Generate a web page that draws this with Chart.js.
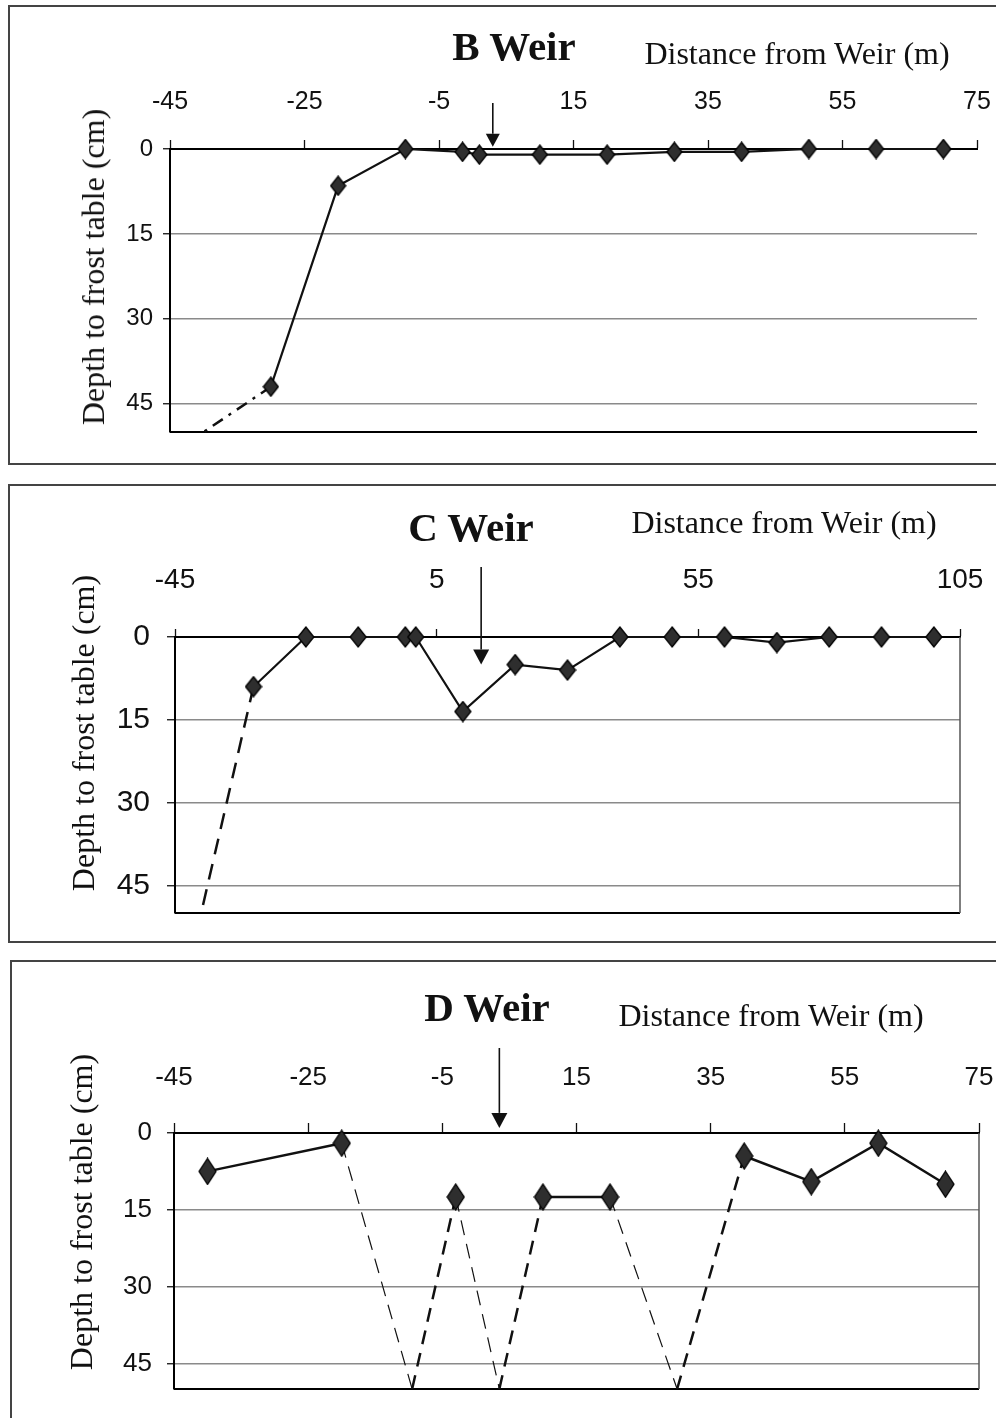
<!DOCTYPE html>
<html lang="en">
<head>
<meta charset="UTF-8">
<title>Depth to frost table near B, C and D weirs</title>
<script src="https://cdn.jsdelivr.net/npm/chart.js"></script>
<style>
  body { margin: 0; background: #fff; width: 996px; height: 1418px; position: relative; overflow: hidden; }
  .panel { position: absolute; left: 8px; width: 1000px; border: 2px solid #444; box-sizing: border-box; }
  canvas { position: absolute; left: 0; }
  .weir, .xtitle, .ytitle { position: absolute; line-height: 1; white-space: nowrap; color: #111; font-family: 'Liberation Serif', 'Times New Roman', serif; }
  .weir { font-size: 41px; font-weight: bold; transform: translate(-50%, -50%); }
  .xtitle { font-size: 32px; transform: translate(-50%, -50%); }
  .ytitle { font-size: 32px; transform: translate(-50%, -50%) rotate(-90deg); }
</style>
</head>
<body>
  <div class="panel" style="top:5px;height:460px"></div>
  <div class="panel" style="top:484px;height:459px"></div>
  <div class="panel" style="top:960px;height:480px;left:10px"></div>

  <canvas id="chartB" width="996" height="470" style="top:0"></canvas>
  <canvas id="chartC" width="996" height="476" style="top:476px"></canvas>
  <canvas id="chartD" width="996" height="466" style="top:952px"></canvas>

  <div class="weir" style="left:514px;top:46px">B Weir</div>
  <div class="xtitle" style="left:797px;top:53px">Distance from Weir (m)</div>
  <div class="ytitle" style="left:93px;top:267px">Depth to frost table (cm)</div>

  <div class="weir" style="left:471px;top:527px">C Weir</div>
  <div class="xtitle" style="left:784px;top:522px">Distance from Weir (m)</div>
  <div class="ytitle" style="left:83px;top:733px">Depth to frost table (cm)</div>

  <div class="weir" style="left:487px;top:1007px">D Weir</div>
  <div class="xtitle" style="left:771px;top:1015px">Distance from Weir (m)</div>
  <div class="ytitle" style="left:81px;top:1212px">Depth to frost table (cm)</div>

<script>
// tick labels
const distTicksBD = [-45, -25, -5, 15, 35, 55, 75];
const distTicksC = [-45, 5, 55, 105];
const depthTicks = [0, 15, 30, 45];

// B weir
const bDist = [-30, -20, -10, -1.5, 1, 10, 20, 30, 40, 50, 60, 70];
const bDepth = [42, 6.5, 0, 0.5, 1, 1, 1, 0.5, 0.5, 0, 0, 0];
const bProjDist = [-30, -40];
const bProjDepth = [42, 50];
const bWeir = [3, -0.4];   // arrow: distance, tip depth

// C weir
const cDist = [-30, -20, -10, -1, 1, 10, 20, 30, 40, 50, 60, 70, 80, 90, 100];
const cDepth = [9, 0, 0, 0, 0, 13.5, 5, 6, 0, 0, 0, 1, 0, 0, 0];
const cProjDist = [-30, -40];
const cProjDepth = [9, 50];
const cWeir = [13.5, 5];

// D weir
const dDist = [-40, -20, -3, 10, 20, 40, 50, 60, 70];
const dDepth = [7.5, 2, 12.5, 12.5, 12.5, 4.5, 9.5, 2, 10];
const dBreakAfter = [-20, -3, 20];
const dDropDist = [-20, -9.5, -3, 3.5, 20, 30];
const dDropDepth = [2, 50, 12.5, 50, 12.5, 50];
const dRiseDist = [-9.5, -3, 3.5, 10, 30, 40];
const dRiseDepth = [50, 12.5, 50, 12.5, 50, 4.5];
const dWeir = [3.5, -1];

const NARROW = "'Liberation Sans Narrow', 'Arial Narrow', 'Liberation Sans', Arial, sans-serif";
const SANS = "'Liberation Sans', Arial, sans-serif";

function pts(xs, ys) {
  return xs.map((x, i) => ({ x: x, y: ys[i] }));
}
function broken(xs, ys, breaks) {
  const out = [];
  xs.forEach((x, i) => {
    out.push({ x: x, y: ys[i] });
    if (breaks.includes(x)) out.push({ x: x, y: null });
  });
  return out;
}
function pairs(xs, ys) {
  const out = [];
  for (let i = 0; i < xs.length; i += 2) {
    out.push({ x: xs[i], y: ys[i] }, { x: xs[i + 1], y: ys[i + 1] }, { x: xs[i + 1], y: null });
  }
  return out;
}
function diamond(w, h) {
  const c = document.createElement('canvas');
  c.width = w + 2; c.height = h + 2;
  const g = c.getContext('2d');
  g.beginPath();
  g.moveTo(c.width / 2, 1);
  g.lineTo(c.width - 1, c.height / 2);
  g.lineTo(c.width / 2, c.height - 1);
  g.lineTo(1, c.height / 2);
  g.closePath();
  g.fillStyle = '#2e2e2e';
  g.fill();
  g.lineWidth = 1.3;
  g.strokeStyle = '#000';
  g.stroke();
  return c;
}

const framePlugin = {
  id: 'frame',
  beforeDatasetsDraw(chart, args, opts) {
    const a = chart.chartArea, ctx = chart.ctx;
    ctx.save();
    ctx.strokeStyle = '#000';
    ctx.lineWidth = 2;
    ctx.beginPath();
    ctx.moveTo(a.left, a.bottom);
    ctx.lineTo(a.right, a.bottom);
    ctx.stroke();
    if (opts.right) {
      ctx.strokeStyle = '#555';
      ctx.lineWidth = 1.5;
      ctx.beginPath();
      ctx.moveTo(a.right, a.top);
      ctx.lineTo(a.right, a.bottom);
      ctx.stroke();
    }
    ctx.restore();
  }
};

const arrowPlugin = {
  id: 'weirArrow',
  afterDatasetsDraw(chart, args, opts) {
    const ctx = chart.ctx;
    const x = chart.scales.x.getPixelForValue(opts.at[0]);
    const tip = chart.scales.y.getPixelForValue(opts.at[1]);
    const start = chart.chartArea.top - opts.rise;
    ctx.save();
    ctx.strokeStyle = '#111';
    ctx.fillStyle = '#111';
    ctx.lineWidth = 1.6;
    ctx.beginPath();
    ctx.moveTo(x, start);
    ctx.lineTo(x, tip - opts.head);
    ctx.stroke();
    ctx.beginPath();
    ctx.moveTo(x - opts.half, tip - opts.head);
    ctx.lineTo(x + opts.half, tip - opts.head);
    ctx.lineTo(x, tip);
    ctx.closePath();
    ctx.fill();
    ctx.restore();
  }
};

function makeChart(id, c) {
  return new Chart(document.getElementById(id), {
    type: 'line',
    data: { datasets: c.datasets },
    plugins: [framePlugin, arrowPlugin],
    options: {
      responsive: false,
      animation: false,
      devicePixelRatio: 1,
      layout: { padding: c.padding },
      plugins: {
        legend: { display: false },
        tooltip: { enabled: false },
        frame: { right: c.rightBorder },
        weirArrow: c.arrow
      },
      elements: { line: { tension: 0 } },
      scales: {
        x: {
          type: 'linear',
          position: 'top',
          min: c.xTicks[0],
          max: c.xTicks[c.xTicks.length - 1],
          afterBuildTicks: s => { s.ticks = c.xTicks.map(v => ({ value: v })); },
          afterFit: s => { s.height = c.xHeight; s.paddingLeft = 0; s.paddingRight = 0; },
          ticks: { font: c.xFont, color: '#111', padding: c.xPad, maxRotation: 0, autoSkip: false },
          grid: { drawOnChartArea: false, drawTicks: true, tickLength: c.xTick, tickColor: '#111', tickWidth: 1.3 },
          border: { color: '#000', width: 2 }
        },
        y: {
          type: 'linear',
          reverse: true,
          min: 0,
          max: 50,
          afterBuildTicks: s => { s.ticks = depthTicks.map(v => ({ value: v })); },
          afterFit: s => { s.width = c.yWidth; s.paddingTop = 0; s.paddingBottom = 0; },
          ticks: { font: c.yFont, color: '#111', padding: c.yPad },
          grid: { color: '#8a8a8a', lineWidth: 1.5, tickLength: c.yTick, tickColor: '#111', tickWidth: 1.3 },
          border: { color: '#000', width: 2 }
        }
      }
    }
  });
}

const lineBase = { borderColor: '#111', backgroundColor: '#111', fill: false, clip: false, spanGaps: false };

makeChart('chartB', {
  xTicks: distTicksBD,
  padding: { left: 0, right: 19, top: 0, bottom: 38 },
  xHeight: 149, yWidth: 170,
  xFont: { family: NARROW, size: 25 }, xPad: 23, xTick: 9,
  yFont: { family: SANS, size: 24 }, yPad: 10, yTick: 7,
  rightBorder: false,
  arrow: { at: bWeir, rise: 46, head: 13, half: 7 },
  datasets: [
    Object.assign({}, lineBase, { data: pts(bDist, bDepth), borderWidth: 2.2, pointStyle: diamond(15, 19), pointRadius: 8, order: 0 }),
    Object.assign({}, lineBase, { data: pts(bProjDist, bProjDepth), borderWidth: 2.5, borderDash: [12, 7, 3, 7], pointRadius: 0, order: 1 })
  ]
});

makeChart('chartC', {
  xTicks: distTicksC,
  padding: { left: 0, right: 36, top: 0, bottom: 39 },
  xHeight: 161, yWidth: 175,
  xFont: { family: SANS, size: 28 }, xPad: 32, xTick: 8,
  yFont: { family: SANS, size: 30 }, yPad: 17, yTick: 8,
  rightBorder: true,
  arrow: { at: cWeir, rise: 70, head: 15, half: 8 },
  datasets: [
    Object.assign({}, lineBase, { data: pts(cDist, cDepth), borderWidth: 2.2, pointStyle: diamond(16, 20), pointRadius: 8, order: 0 }),
    Object.assign({}, lineBase, { data: pts(cProjDist, cProjDepth), borderWidth: 2.5, borderDash: [16, 10], pointRadius: 0, order: 1 })
  ]
});

makeChart('chartD', {
  xTicks: distTicksBD,
  padding: { left: 0, right: 17, top: 0, bottom: 29 },
  xHeight: 181, yWidth: 174,
  xFont: { family: NARROW, size: 26 }, xPad: 30, xTick: 10,
  yFont: { family: SANS, size: 26 }, yPad: 15, yTick: 7,
  rightBorder: true,
  arrow: { at: dWeir, rise: 85, head: 15, half: 8 },
  datasets: [
    Object.assign({}, lineBase, { data: broken(dDist, dDepth, dBreakAfter), borderWidth: 2.5, pointStyle: diamond(17, 26), pointRadius: 9, order: 0 }),
    Object.assign({}, lineBase, { data: pairs(dDropDist, dDropDepth), borderWidth: 1.2, borderDash: [15, 9], pointRadius: 0, order: 1 }),
    Object.assign({}, lineBase, { data: pairs(dRiseDist, dRiseDepth), borderWidth: 2.5, borderDash: [14, 9], pointRadius: 0, order: 1 })
  ]
});
</script>
</body>
</html>
